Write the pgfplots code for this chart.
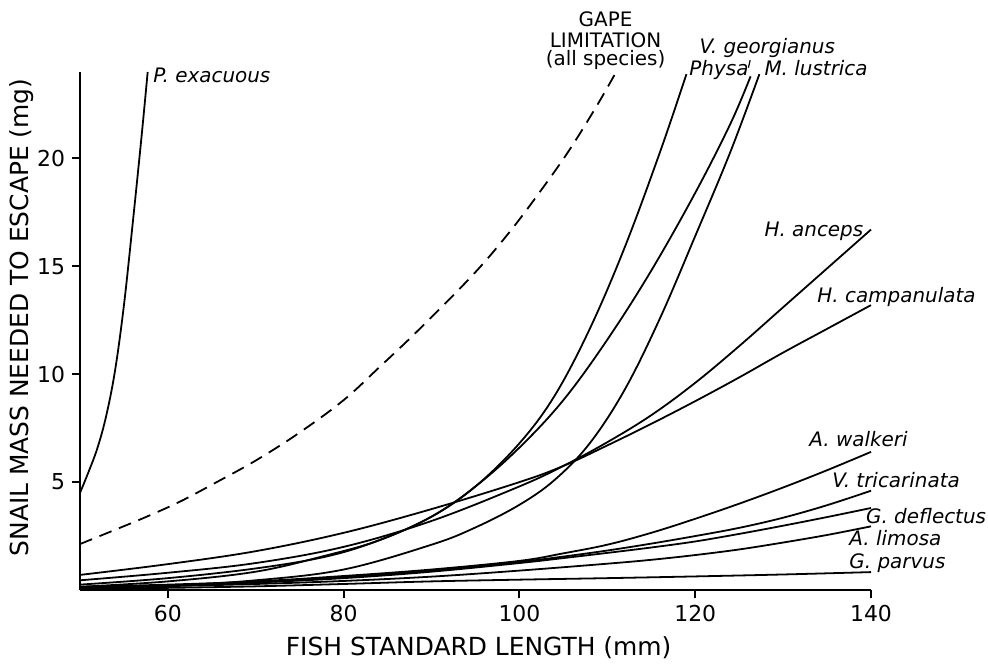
\documentclass[border=0pt]{standalone}
\usepackage{fontspec}
\setmainfont{DejaVu Sans}
\usepackage{pgfplots}
\pgfplotsset{compat=1.18}
\begin{document}
\begin{tikzpicture}
\begin{axis}[
  name=ax,
  scale only axis,
  width=395.5bp, height=259bp,
  xmin=50, xmax=140, ymin=0, ymax=24,
  axis x line*=bottom, axis y line*=left,
  axis line style={-, line width=1.3pt},
  xtick={60,80,100,120,140},
  ytick={5,10,15,20},
  tick align=outside,
  major tick length=4bp,
  tick style={line width=1pt, black},
  /pgf/number format/assume math mode=true,
  tick label style={font=\fontsize{11}{12}\selectfont},
  xlabel={FISH STANDARD LENGTH (mm)},
  ylabel={SNAIL MASS NEEDED TO ESCAPE (mg)},
  xlabel style={font=\fontsize{12.5}{14}\selectfont, at={(axis description cs:0.504,-0.1255)}, anchor=base},
  ylabel style={font=\fontsize{12.5}{14}\selectfont, at={(axis description cs:-0.0657,0.526)}, anchor=base},
  clip=false,
  cycle list={{black,solid,no markers}},
  every axis plot/.append style={black, no markers, line width=0.9pt, smooth, tension=0.6},
]
% P. exacuous
\addplot coordinates {(50,4.5) (51,5.5) (52,6.6) (53,8.1) (54,10.2) (55,13.2) (56,17.0) (57,21.0) (57.7,24)};
% Gape limitation
\addplot[dash pattern=on 6.5bp off 4bp] coordinates {(50,2.13) (53.75,2.75) (57.6,3.4) (61.4,4.1) (65.1,4.9) (70,6.0) (75,7.3) (80,8.8) (84,10.3) (88.4,12.0) (94.7,14.6) (98.9,16.6) (102.6,18.6) (105.7,20.4) (108.75,22.4) (111,24)};
% Physa
\addplot coordinates {(50,0.15) (60,0.4) (70,0.85) (78,1.6) (84,2.3) (90,3.4) (95,4.8) (100,6.8) (104,9.0) (108,12.1) (112,15.9) (116,20.3) (119,23.9)};
% V. georgianus
\addplot coordinates {(50,0.25) (60,0.55) (70,1.0) (78,1.55) (84,2.3) (90,3.4) (95,4.8) (100,6.6) (105,8.8) (110,11.6) (115,14.8) (120,18.4) (124,21.6) (126.3,23.8)};
% M. lustrica
\addplot coordinates {(50,0.05) (60,0.2) (70,0.45) (80,0.95) (90,2.1) (95,2.9) (100,3.95) (104,5.1) (108,6.8) (112,9.3) (116,12.6) (120,16.4) (124,20.3) (127.3,23.9)};
% H. anceps
\addplot coordinates {(50,0.45) (60,0.8) (70,1.25) (80,2.0) (90,3.2) (100,4.8) (105,5.75) (110,6.85) (115,8.1) (120,9.6) (125,11.3) (130,13.1) (135,14.9) (140,16.7)};
% H. campanulata
\addplot coordinates {(50,0.7) (60,1.2) (70,1.8) (80,2.65) (90,3.75) (100,5.0) (105,5.75) (110,6.7) (115,7.7) (120,8.75) (125,9.85) (130,11.0) (135,12.1) (140,13.2)};
% A. walkeri
\addplot coordinates {(50,0.15) (60,0.25) (70,0.4) (80,0.65) (90,0.95) (100,1.35) (105,1.7) (110,2.1) (115,2.65) (120,3.3) (125,4.0) (130,4.75) (135,5.55) (140,6.4)};
% V. tricarinata
\addplot coordinates {(50,0.1) (60,0.2) (70,0.35) (80,0.6) (90,0.9) (100,1.3) (105,1.55) (110,1.83) (115,2.15) (120,2.5) (125,2.88) (130,3.35) (135,3.93) (140,4.6)};
% G. deflectus
\addplot coordinates {(50,0.12) (60,0.22) (70,0.35) (80,0.55) (90,0.85) (100,1.25) (105,1.48) (110,1.72) (115,1.97) (120,2.25) (125,2.6) (130,2.98) (135,3.38) (140,3.8)};
% A. limosa
\addplot coordinates {(50,0.1) (60,0.18) (70,0.28) (80,0.42) (90,0.62) (100,0.9) (110,1.22) (115,1.4) (120,1.62) (125,1.88) (130,2.2) (135,2.55) (140,2.95)};
% G. parvus
\addplot coordinates {(50,0.05) (60,0.1) (70,0.17) (80,0.28) (90,0.4) (100,0.48) (110,0.55) (120,0.63) (130,0.72) (140,0.83)};

\begin{scope}[every node/.style={font=\itshape\fontsize{10}{12}\selectfont, inner sep=0pt, anchor=base west}]
\node at (axis cs:58.3,23.5) {P. exacuous};
\node at (axis cs:120.45,24.86) {V. georgianus};
\node at (axis cs:119.3,23.84) {Physa};
\node at (axis cs:127.84,23.84) {M. lustrica};
\node at (axis cs:127.84,16.4) {H. anceps};
\node at (axis cs:133.86,13.3) {H. campanulata};
\node at (axis cs:132.95,6.67) {A. walkeri};
\node at (axis cs:135.57,4.77) {V. tricarinata};
\node at (axis cs:139.4,3.1) {G. deflectus};
\node at (axis cs:137.5,2.04) {A. limosa};
\node at (axis cs:137.5,1.02) {G. parvus};
\end{scope}
\begin{scope}[every node/.style={font=\fontsize{10}{12}\selectfont, inner sep=0pt, anchor=base}]
\node at (axis cs:109.8,26.1) {GAPE};
\node at (axis cs:109.8,25.14) {LIMITATION};
\node at (axis cs:109.8,24.3) {(all species)};
\end{scope}
\draw[line width=0.6pt] (axis cs:126.25,24.55) -- (axis cs:126.05,24.2);
\end{axis}
\path ([xshift=-40bp,yshift=-35bp]ax.south west) rectangle ([xshift=58.5bp,yshift=36bp]ax.north east);
\end{tikzpicture}
\end{document}
